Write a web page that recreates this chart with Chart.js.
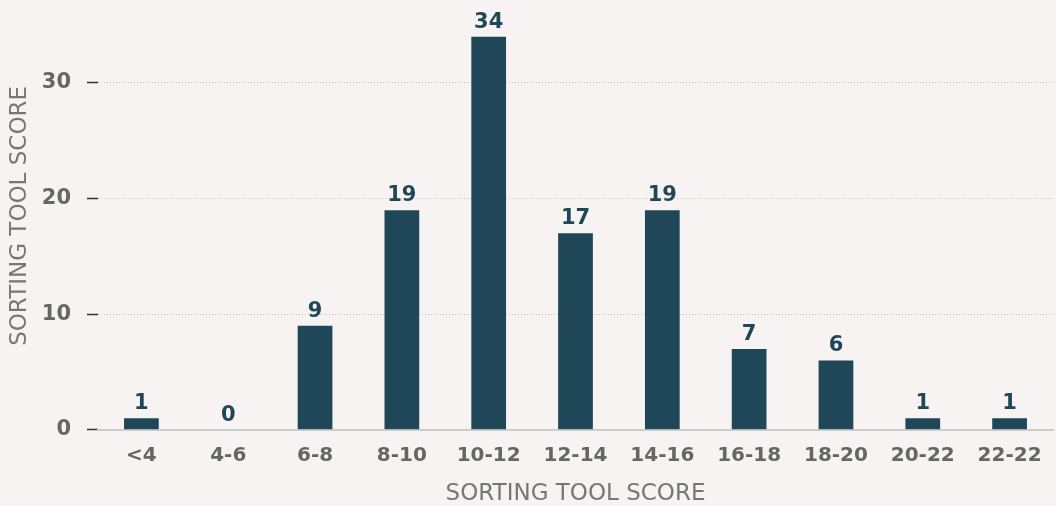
<!DOCTYPE html>
<html>
<head>
<meta charset="utf-8">
<script src="https://cdn.jsdelivr.net/npm/chart.js@4.4.1/dist/chart.umd.min.js"></script>
<style>
  html, body { margin: 0; padding: 0; background: #f7f3f2; }
  #scoreChart { display: block; }
</style>
</head>
<body>
<canvas id="scoreChart" width="1056" height="506"></canvas>
<script>
// score bands and how many fell in each
var categories = ["<4", "4-6", "6-8", "8-10", "10-12", "12-14", "14-16", "16-18", "18-20", "20-22", "22-22"];
var counts = [1, 0, 9, 19, 34, 17, 19, 7, 6, 1, 1];
var yTicks = [0, 10, 20, 30];
var axisTitle = "SORTING TOOL SCORE";

var barColor = '#1f4757';
var textGray = '#666666';
var fontName = "'DejaVu Sans', sans-serif";

// draws the count above each bar
var valueLabels = {
    id: 'valueLabels',
    afterDatasetsDraw: function(chart) {
        var ctx = chart.ctx;
        var meta = chart.getDatasetMeta(0);
        ctx.save();
        ctx.font = 'bold 21px ' + fontName;
        ctx.fillStyle = barColor;
        ctx.textAlign = 'center';
        ctx.textBaseline = 'alphabetic';
        meta.data.forEach(function(bar, i) {
            ctx.fillText(String(counts[i]), bar.x, bar.y - 9);
        });
        ctx.restore();
    }
};

var ctx = document.getElementById("scoreChart").getContext('2d');
var chart = new Chart(ctx, {
    type: 'bar',
    data: {
        labels: categories,
        datasets: [{
            data: counts,
            backgroundColor: barColor,
            borderWidth: 0,
            barPercentage: 0.4,
            categoryPercentage: 1.0
        }]
    },
    options: {
        responsive: false,
        animation: false,
        devicePixelRatio: 1,
        layout: { padding: { top: 2, right: 3, bottom: 0, left: 0 } },
        plugins: {
            legend: { display: false },
            tooltip: { enabled: false }
        },
        scales: {
            x: {
                grid: { display: false, drawTicks: false },
                border: { display: true, color: '#cccccc', width: 2 },
                ticks: {
                    color: textGray,
                    padding: 14,
                    font: { family: fontName, size: 20, weight: '600' }
                },
                title: {
                    display: true,
                    text: axisTitle,
                    color: '#777777',
                    padding: { top: 0, bottom: 0 },
                    font: { family: fontName, size: 23, weight: 'normal', lineHeight: 1.05 }
                }
            },
            y: {
                min: 0,
                max: 37,
                afterBuildTicks: function(scale) {
                    scale.ticks = yTicks.map(function(v) { return { value: v }; });
                },
                afterFit: function(scale) {
                    scale.width = 98;
                    scale.paddingTop = 0;
                    scale.paddingBottom = 0;
                },
                grid: {
                    color: function(c) {
                        return c.tick && c.tick.value === 0 ? 'rgba(0,0,0,0)' : '#c4c4c4';
                    },
                    lineWidth: 1,
                    tickColor: '#333333',
                    tickLength: 15,
                    tickWidth: 1.5,
                    tickBorderDash: [11, 4],
                    tickBorderDashOffset: 11
                },
                border: { display: false, dash: [1, 2] },
                ticks: {
                    color: textGray,
                    padding: 12,
                    font: { family: fontName, size: 21, weight: '600' }
                },
                title: {
                    display: true,
                    text: axisTitle,
                    color: '#777777',
                    padding: { top: 6, bottom: 0 },
                    font: { family: fontName, size: 23, weight: 'normal' }
                }
            }
        }
    },
    plugins: [valueLabels]
});
</script>
</body>
</html>
